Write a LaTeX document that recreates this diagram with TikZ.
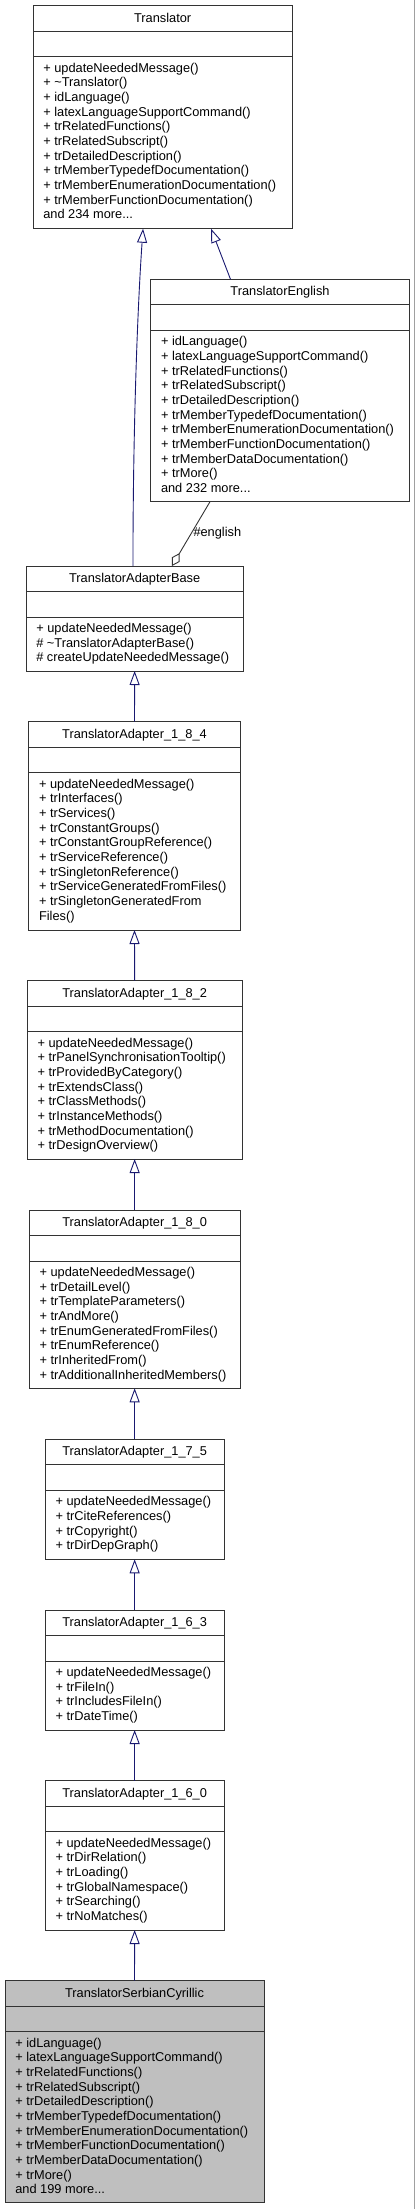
\documentclass[tikz,border=0pt]{standalone}
\usepackage{fontspec}
\setmainfont{Liberation Sans}
\usetikzlibrary{arrows.meta}
\definecolor{edgeblue}{HTML}{191970}
\definecolor{boxline}{HTML}{333333}
\definecolor{selfill}{HTML}{BFBFBF}
\definecolor{rulegray}{HTML}{A0A0A0}
\newcommand\ellip{...}
\tikzset{
  classbox/.style={draw=boxline, line width=0.9pt, inner sep=0pt, outer sep=0pt, anchor=north west},
  sepline/.style={draw=boxline, line width=0.9pt},
  txt/.style={font=\fontsize{12.8pt}{14.65pt}\selectfont, inner sep=0pt, outer sep=0pt},
  inh/.style={draw=edgeblue, line width=0.9pt, -{Triangle[open, length=14pt, width=10pt]}},
  agg/.style={draw=boxline, line width=0.9pt, {Diamond[open, length=15pt, width=9pt]}-},
}
\newcommand\umlclass[8]{%
  \node[classbox, fill=#7, minimum width={(#3-#2)*1pt}, minimum height={(#5-#4)*1pt}] (#1) at (#2,#4) {};
  \draw[sepline] ([yshift=-25.5pt]#1.north west) -- ([yshift=-25.5pt]#1.north east);
  \draw[sepline] ([yshift=-51pt]#1.north west) -- ([yshift=-51pt]#1.north east);
  \node[txt, anchor=base] (#1-title) at ([yshift=-16.3pt]#1.north) {#6};
  \foreach \m [count=\i from 0] in {#8}
    \node[txt, anchor=base west] (#1-m\i) at ([xshift=10.3pt, yshift={-66.5pt-\i*14.65pt}]#1.north west) {\m};
}
\begin{document}
\begin{tikzpicture}[x=1pt, y=-1pt]
\useasboundingbox (0,0) rectangle (415,2209);
\draw[rulegray, line width=1pt] (414.3,0) -- (414.3,2209);

\umlclass{tr}{33}{292.3}{5.7}{228.7}{Translator}{white}{%
+ updateNeededMessage(),+ \textasciitilde Translator(),+ idLanguage(),+ latexLanguageSupportCommand(),%
+ trRelatedFunctions(),+ trRelatedSubscript(),+ trDetailedDescription(),+ trMemberTypedefDocumentation(),%
+ trMemberEnumerationDocumentation(),+ trMemberFunctionDocumentation(),and 234 more\ellip}

\umlclass{en}{150.7}{409.3}{279.3}{501.7}{TranslatorEnglish}{white}{%
+ idLanguage(),+ latexLanguageSupportCommand(),+ trRelatedFunctions(),+ trRelatedSubscript(),%
+ trDetailedDescription(),+ trMemberTypedefDocumentation(),+ trMemberEnumerationDocumentation(),%
+ trMemberFunctionDocumentation(),+ trMemberDataDocumentation(),+ trMore(),and 232 more\ellip}

\umlclass{base}{26}{243.3}{566}{671}{TranslatorAdapterBase}{white}{%
+ updateNeededMessage(),\# \textasciitilde TranslatorAdapterBase(),\# createUpdateNeededMessage()}

\umlclass{la}{28.7}{240.3}{721.7}{930}{TranslatorAdapter\_1\_8\_4}{white}{%
+ updateNeededMessage(),+ trInterfaces(),+ trServices(),+ trConstantGroups(),+ trConstantGroupReference(),%
+ trServiceReference(),+ trSingletonReference(),+ trServiceGeneratedFromFiles(),+ trSingletonGeneratedFrom,Files()}

\umlclass{lb}{27.3}{242}{980.7}{1159}{TranslatorAdapter\_1\_8\_2}{white}{%
+ updateNeededMessage(),+ trPanelSynchronisationTooltip(),+ trProvidedByCategory(),+ trExtendsClass(),%
+ trClassMethods(),+ trInstanceMethods(),+ trMethodDocumentation(),+ trDesignOverview()}

\umlclass{lc}{29.3}{240}{1210}{1388.3}{TranslatorAdapter\_1\_8\_0}{white}{%
+ updateNeededMessage(),+ trDetailLevel(),+ trTemplateParameters(),+ trAndMore(),%
+ trEnumGeneratedFromFiles(),+ trEnumReference(),+ trInheritedFrom(),+ trAdditionalInheritedMembers()}

\umlclass{ld}{45.3}{224}{1439.3}{1559.3}{TranslatorAdapter\_1\_7\_5}{white}{%
+ updateNeededMessage(),+ trCiteReferences(),+ trCopyright(),+ trDirDepGraph()}

\umlclass{le}{45.3}{224}{1610}{1730}{TranslatorAdapter\_1\_6\_3}{white}{%
+ updateNeededMessage(),+ trFileIn(),+ trIncludesFileIn(),+ trDateTime()}

\umlclass{lf}{45.3}{224}{1780.7}{1930}{TranslatorAdapter\_1\_6\_0}{white}{%
+ updateNeededMessage(),+ trDirRelation(),+ trLoading(),+ trGlobalNamespace(),+ trSearching(),+ trNoMatches()}

\umlclass{ser}{5}{264}{1980.7}{2202.7}{TranslatorSerbianCyrillic}{selfill}{%
+ idLanguage(),+ latexLanguageSupportCommand(),+ trRelatedFunctions(),+ trRelatedSubscript(),%
+ trDetailedDescription(),+ trMemberTypedefDocumentation(),+ trMemberEnumerationDocumentation(),%
+ trMemberFunctionDocumentation(),+ trMemberDataDocumentation(),+ trMore(),and 199 more\ellip}

% connectors
\draw[inh] ([xshift=-1.7pt]base.north) .. controls (133,420) and (138,300) .. ([xshift=-19.6pt]tr.south);
\draw[inh] ([xshift=-49.5pt]en.north) -- ([xshift=48.4pt]tr.south);
\draw[agg] ([xshift=37.3pt]base.north) -- ([xshift=-70pt]en.south);
\node[txt, anchor=base west] (englbl) at (193.5,536.5) {\#english};
\draw[inh] (la.north) -- (base.south);
\draw[inh] (lb.north) -- (la.south);
\draw[inh] (lc.north) -- (lb.south);
\draw[inh] (ld.north) -- (lc.south);
\draw[inh] (le.north) -- (ld.south);
\draw[inh] (lf.north) -- (le.south);
\draw[inh] (ser.north) -- (lf.south);
\end{tikzpicture}
\end{document}
